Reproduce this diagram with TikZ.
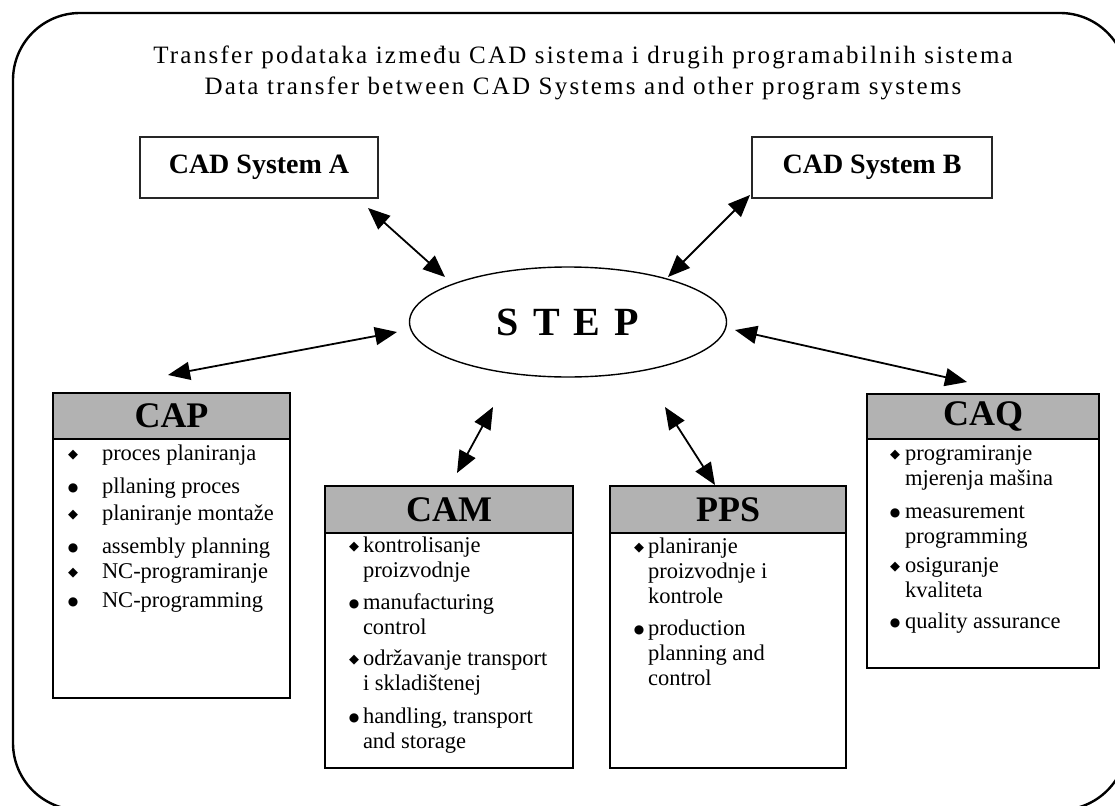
\documentclass[tikz,border=0pt]{standalone}
\usepackage{fontspec}
\setmainfont{Liberation Serif}
\newfontfamily\symf{DejaVu Sans}
\newfontfamily\titlefont[LetterSpace=9]{Liberation Serif}
\usetikzlibrary{arrows.meta,shapes.geometric}
\begin{document}
\begin{tikzpicture}[x=1pt,y=-1pt,
  every node/.style={inner sep=0pt,outer sep=0pt},
  frame/.style={line width=2.4pt,rounded corners=67pt},
  cadbox/.style={draw=black!85,line width=1.3pt,minimum height=61pt,font=\fontsize{28}{32}\selectfont\bfseries},
  stepnode/.style={ellipse,draw,line width=1.4pt,minimum width=317pt,minimum height=110pt,font=\fontsize{40}{44}\selectfont\bfseries},
  head/.style={draw,fill=black!30,line width=1.8pt,font=\fontsize{36}{38}\selectfont\bfseries},
  body/.style={draw,fill=white,line width=1.8pt},
  dia/.style={font=\symf\fontsize{13}{14}\selectfont},
  dot/.style={font=\symf\fontsize{12}{13}\selectfont},
  itemtxt/.style={anchor=north west,align=left,font=\fontsize{22.5}{25}\selectfont},
  linetxt/.style={anchor=base west,font=\fontsize{22.5}{25}\selectfont},
  arr/.style={{Triangle[length=22pt,width=18pt]}-{Triangle[length=22pt,width=18pt]},line width=1.8pt},
  ttl/.style={font=\titlefont\fontsize{25}{29}\selectfont,anchor=base}]
\useasboundingbox (0,0) rectangle (1115,805);
\draw[frame] (13,13) rectangle (1127,810);

\node[ttl] (t1) at (583,64) {Transfer podataka između CAD sistema i drugih programabilnih sistema};
\node[ttl] (t2) at (583,95) {Data transfer between CAD Systems and other program systems};

\node[cadbox,minimum width=238pt] (cadA) at (259,167.5) {CAD System A};
\node[cadbox,minimum width=240pt] (cadB) at (872,167.5) {CAD System B};

\node[stepnode] (step) at (568,322) {S\hspace{14pt}T\hspace{14pt}E\hspace{14pt}P};

% CAP
\node[body,minimum width=237pt,minimum height=259pt] (capB) at (171.5,568.5) {};
\node[head,minimum width=237pt,minimum height=46pt] (capH) at (171.5,416) {CAP};
% CAM
\node[body,minimum width=248pt,minimum height=235pt] (camB) at (449,650.5) {};
\node[head,minimum width=248pt,minimum height=47pt] (camH) at (449,509.5) {CAM};
% PPS
\node[body,minimum width=236pt,minimum height=235pt] (ppsB) at (728,650.5) {};
\node[head,minimum width=236pt,minimum height=47pt] (ppsH) at (728,509.5) {PPS};
% CAQ
\node[body,minimum width=232pt,minimum height=229pt] (caqB) at (983,553.5) {};
\node[head,minimum width=232pt,minimum height=45pt] (caqH) at (983,416.5) {CAQ};

% CAP items
\node[dia] (cp1) at (73,455) {◆};
\node[linetxt] (cpt1) at (102,460) {proces planiranja};
\node[dot] (cp2) at (73,488) {●};
\node[linetxt] (cpt2) at (102,493) {pllaning proces};
\node[dia] (cp3) at (73,515) {◆};
\node[linetxt] (cpt3) at (102,520) {planiranje montaže};
\node[dot] (cp4) at (73,548) {●};
\node[linetxt] (cpt4) at (102,553) {assembly planning};
\node[dia] (cp5) at (73,573) {◆};
\node[linetxt] (cpt5) at (102,578) {NC-programiranje};
\node[dot] (cp6) at (73,602) {●};
\node[linetxt] (cpt6) at (102,607) {NC-programming};

% CAM items
\node[dia] (cm1) at (354,547) {◆};
\node[itemtxt] (cmt1) at (363,534.5) {\strut kontrolisanje\\proizvodnje};
\node[dot] (cm2) at (354,604) {●};
\node[itemtxt] (cmt2) at (363,591.5) {\strut manufacturing\\control};
\node[dia] (cm3) at (354,660) {◆};
\node[itemtxt] (cmt3) at (363,647.5) {\strut održavanje transport\\i skladištenej};
\node[dot] (cm4) at (354,718) {●};
\node[itemtxt] (cmt4) at (363,705.5) {\strut handling, transport\\and storage};

% PPS items
\node[dia] (pp1) at (639,548) {◆};
\node[itemtxt] (ppt1) at (648,535.5) {\strut planiranje\\proizvodnje i\\kontrole};
\node[dot] (pp2) at (639,630) {●};
\node[itemtxt] (ppt2) at (648,617.5) {\strut production\\planning and\\control};

% CAQ items
\node[dia] (cq1) at (895,455) {◆};
\node[itemtxt] (cqt1) at (905,442.5) {\strut programiranje\\mjerenja mašina};
\node[dot] (cq2) at (895,513) {●};
\node[itemtxt] (cqt2) at (905,500.5) {\strut measurement\\programming};
\node[dia] (cq3) at (895,567) {◆};
\node[itemtxt] (cqt3) at (905,554.5) {\strut osiguranje\\kvaliteta};
\node[dot] (cq4) at (895,623) {●};
\node[itemtxt] (cqt4) at (905,610.5) {\strut quality assurance};

% arrows
\coordinate (aA1) at (368,208); \coordinate (aA2) at (445,277);
\coordinate (aB1) at (750,195); \coordinate (aB2) at (668,277);
\coordinate (aP1) at (168,375); \coordinate (aP2) at (397,332);
\coordinate (aQ1) at (735,330); \coordinate (aQ2) at (967,382);
\coordinate (aM1) at (493,407); \coordinate (aM2) at (457,473);
\coordinate (aS1) at (665,407); \coordinate (aS2) at (715,485);
\draw[arr] (aA1) -- (aA2);
\draw[arr] (aB1) -- (aB2);
\draw[arr] (aP1) -- (aP2);
\draw[arr] (aQ1) -- (aQ2);
\draw[arr] (aM1) -- (aM2);
\draw[arr] (aS1) -- (aS2);
\end{tikzpicture}
\end{document}
